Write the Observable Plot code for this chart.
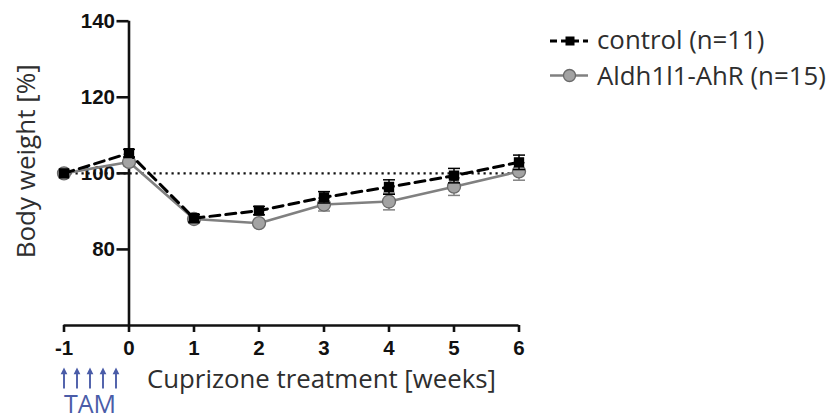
<!DOCTYPE html>
<html>
<head>
<meta charset="utf-8">
<script src="https://cdn.jsdelivr.net/npm/d3@7"></script>
<script src="https://cdn.jsdelivr.net/npm/@observablehq/plot@0.6"></script>
<style>
  html, body { margin: 0; padding: 0; background: #fff; }
  #wrap { position: relative; width: 831px; height: 419px; }
  #legend { position: absolute; left: 0; top: 0; pointer-events: none; }
</style>
</head>
<body>
<div id="wrap"></div>
<script>
// ---- data ----
const weeks = [-1, 0, 1, 2, 3, 4, 5, 6];
const controlMean = [100, 105.3, 88.2, 90.2, 93.7, 96.4, 99.4, 102.9];
const controlErr  = [0, 1.0, 1.0, 1.1, 1.5, 1.9, 1.9, 1.9];
const ahrMean     = [100, 103.0, 88.0, 86.9, 91.8, 92.6, 96.5, 100.5];
const ahrErr      = [0, 1.0, 1.0, 0.8, 1.7, 2.2, 2.3, 2.3];
const xTicks = [-1, 0, 1, 2, 3, 4, 5, 6];
const yTicks = [80, 100, 120, 140];
const yDomain = [60, 140];
const baseline = 100;
const tamDays = [-1, -0.8, -0.6, -0.4, -0.2];
const seriesNames = ["control (n=11)", "Aldh1l1-AhR (n=15)"];
const xLabel = "Cuprizone treatment [weeks]";
const yLabel = "Body weight [%]";
const tamLabel = "TAM";

const control = weeks.map((w, i) => ({x: w, y: controlMean[i], lo: controlMean[i] - controlErr[i], hi: controlMean[i] + controlErr[i]}));
const ahr = weeks.map((w, i) => ({x: w, y: ahrMean[i], lo: ahrMean[i] - ahrErr[i], hi: ahrMean[i] + ahrErr[i]}));
const ahrBars = ahr.filter(d => d.hi > d.lo);
const ctlBars = control.filter(d => d.hi > d.lo);

// custom symbols
const capSymbol = {draw(ctx, size) { const w = Math.sqrt(size) / 2; ctx.moveTo(-w, 0); ctx.lineTo(w, 0); }};
const arrowSymbol = {draw(ctx, size) {
  const h = Math.sqrt(size);
  const hw = h * 0.16, sw = h * 0.045, hh = h * 0.32;
  ctx.moveTo(0, -h / 2);
  ctx.lineTo(hw, -h / 2 + hh);
  ctx.lineTo(sw, -h / 2 + hh);
  ctx.lineTo(sw, h / 2);
  ctx.lineTo(-sw, h / 2);
  ctx.lineTo(-sw, -h / 2 + hh);
  ctx.lineTo(-hw, -h / 2 + hh);
  ctx.closePath();
}};

const textFont = "Open Sans";
const textColor = "#2e2e2e";
const blue = "#4a5ca8";
const gray = "#808080";

const plot = Plot.plot({
  width: 831,
  height: 419,
  marginLeft: 128.5,
  marginRight: 312.5,
  marginTop: 20.7,
  marginBottom: 94,
  style: {fontFamily: "Liberation Sans", fontSize: "20.5px", fontWeight: "bold", background: "white", overflow: "visible"},
  x: {domain: [0, 6]},
  y: {domain: yDomain},
  marks: [
    // baseline dotted
    Plot.ruleY([baseline], {x1: d3.min(xTicks), x2: d3.max(xTicks), stroke: "#111", strokeWidth: 2.2, strokeDasharray: "2.2,3.8"}),
    // axes lines
    Plot.ruleY([yDomain[0]], {x1: d3.min(xTicks), x2: d3.max(xTicks), stroke: "#111", strokeWidth: 2.6}),
    Plot.ruleX([0], {y1: yDomain[0], y2: yDomain[1], stroke: "#111", strokeWidth: 2.6}),
    Plot.axisX({ticks: xTicks, tickSize: 7, strokeWidth: 2.6, stroke: "#111", fill: "#111", fontSize: 20.5, fontWeight: "bold", tickPadding: 8, label: null, tickFormat: d => String(d).replace("−", "-")}),
    Plot.axisY({ticks: yTicks, tickSize: 12, strokeWidth: 2.6, stroke: "#111", fill: "#111", fontSize: 20.5, fontWeight: "bold", tickPadding: 2, label: null}),
    // AhR series
    Plot.line(ahr, {x: "x", y: "y", stroke: gray, strokeWidth: 2.6}),
    Plot.ruleX(ahrBars, {x: "x", y1: "lo", y2: "hi", stroke: gray, strokeWidth: 1.5}),
    Plot.dot(ahrBars, {x: "x", y: "hi", symbol: capSymbol, r: 6.8, stroke: gray, strokeWidth: 1.5}),
    Plot.dot(ahrBars, {x: "x", y: "lo", symbol: capSymbol, r: 6.8, stroke: gray, strokeWidth: 1.5}),
    Plot.dot(ahr, {x: "x", y: "y", r: 6.5, fill: "#a3a3a3", stroke: "#6a6a6a", strokeWidth: 1.3}),
    // control series
    Plot.line(control, {x: "x", y: "y", stroke: "#000", strokeWidth: 3, strokeDasharray: "10,6"}),
    Plot.ruleX(ctlBars, {x: "x", y1: "lo", y2: "hi", stroke: "#000", strokeWidth: 1.5}),
    Plot.dot(ctlBars, {x: "x", y: "hi", symbol: capSymbol, r: 6.8, stroke: "#000", strokeWidth: 1.5}),
    Plot.dot(ctlBars, {x: "x", y: "lo", symbol: capSymbol, r: 6.8, stroke: "#000", strokeWidth: 1.5}),
    Plot.dot(control, {x: "x", y: "y", symbol: "square", r: 5, fill: "#000", stroke: "#000"}),
    // titles
    Plot.text([yLabel], {frameAnchor: "left", dx: -102, dy: -12, rotate: -90, text: d => d, fontSize: 26, fontFamily: textFont, fontWeight: "normal", fill: textColor, textAnchor: "middle", lineAnchor: "middle"}),
    Plot.text([xLabel], {frameAnchor: "bottom-left", dx: 18, dy: 54, text: d => d, fontSize: 25.8, fontFamily: textFont, fontWeight: "normal", fill: textColor, textAnchor: "start", lineAnchor: "middle"}),
    // TAM arrows + label
    Plot.dot(tamDays, {x: d => d, frameAnchor: "bottom", dy: 52.5, symbol: arrowSymbol, r: 11.8, fill: blue, stroke: "none"}),
    Plot.text([tamLabel], {x: () => d3.mean(tamDays), frameAnchor: "bottom", dy: 79, text: d => d, fontSize: 25, fontFamily: textFont, fontWeight: "normal", fill: blue, textAnchor: "middle", lineAnchor: "middle"})
  ]
});
document.getElementById("wrap").appendChild(plot);

// ---- legend overlay ----
const lg = d3.select("#wrap").append("svg").attr("id", "legend").attr("width", 831).attr("height", 419);
const items = [
  {name: seriesNames[0], y: 41, base: 49, stroke: "#000", dash: "7,4", sw: 3, sym: "square"},
  {name: seriesNames[1], y: 75.5, base: 85, stroke: gray, dash: null, sw: 2.6, sym: "circle"}
];
items.forEach(it => {
  lg.append("line").attr("x1", 550).attr("x2", 588).attr("y1", it.y).attr("y2", it.y)
    .attr("stroke", it.stroke).attr("stroke-width", it.sw).attr("stroke-dasharray", it.dash);
  if (it.sym === "square") {
    lg.append("rect").attr("x", 565.5).attr("y", it.y - 4.5).attr("width", 9).attr("height", 9).attr("fill", "#000");
  } else {
    lg.append("circle").attr("cx", 569.5).attr("cy", it.y).attr("r", 6).attr("fill", "#a3a3a3").attr("stroke", "#6a6a6a").attr("stroke-width", 1.3);
  }
  lg.append("text").attr("x", 597).attr("y", it.base).attr("font-family", textFont)
    .attr("font-size", 25.8).attr("fill", textColor).text(it.name);
});
</script>
</body>
</html>
